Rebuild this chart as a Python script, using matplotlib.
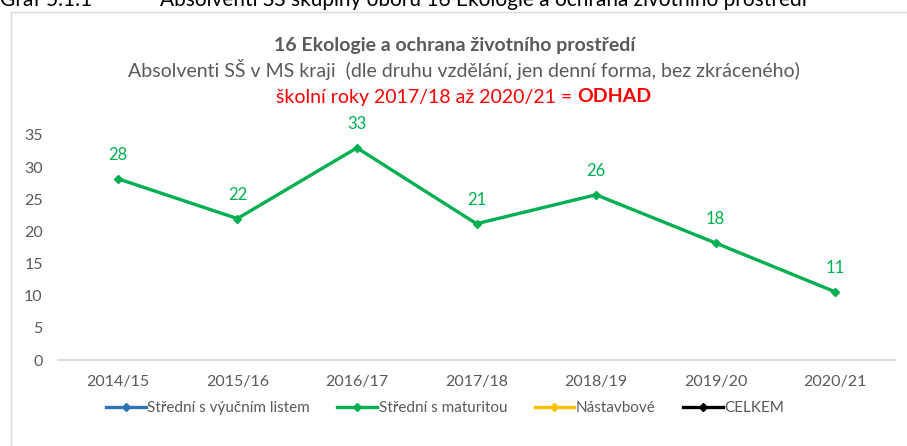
import numpy as np
import matplotlib.pyplot as plt
from matplotlib.lines import Line2D

plt.rcParams['font.family'] = ['Lato', 'DejaVu Sans']

years = ['2014/15', '2015/16', '2016/17', '2017/18', '2018/19', '2019/20', '2020/21']
maturita = [28.2, 22.0, 33.0, 21.2, 25.7, 18.2, 10.6]
vyucni = [np.nan] * 7
nastavbove = [np.nan] * 7
celkem = [np.nan] * 7

series_names = ['Střední s výučním listem', 'Střední s maturitou', 'Nástavbové', 'CELKEM']
series_colors = ['#2E75B6', '#00B050', '#FFC000', '#000000']

W, H = 907, 446
fig = plt.figure(figsize=(W / 100, H / 100), dpi=100)

def px(x, y):
    return x / W, 1 - y / H

# chart frame (partly cropped)
fig.add_artist(Line2D([10.5 / W, 10.5 / W], [0, 1 - 12 / H], color='#D9D9D9', lw=1))
fig.add_artist(Line2D([10.5 / W, 1], [1 - 12 / H, 1 - 12 / H], color='#D9D9D9', lw=1))

# caption above the frame, top cut off as in the source
fig.text(*px(0, 6), 'Graf 5.1.1', fontsize=15, color='black', va='baseline', ha='left')
fig.text(*px(160, 6), 'Absolventi SŠ skupiny oborů 16 Ekologie a ochrana životního prostředí',
         fontsize=15, color='black', va='baseline', ha='left')

grey = '#595959'
fig.text(*px(455, 45), '16 Ekologie a ochrana životního prostředí', fontsize=14,
         fontweight='bold', color=grey, ha='center', va='center')
fig.text(*px(464, 70), 'Absolventi SŠ v MS kraji  (dle druhu vzdělání, jen denní forma, bez zkráceného)',
         fontsize=14, color=grey, ha='center', va='center')

# red line: regular part + bold part, centred together
red1 = fig.text(0, 1 - 97 / H, 'školní roky 2017/18 až 2020/21 = ', fontsize=14,
                color='#FF0000', ha='left', va='center')
red2 = fig.text(0, 1 - 97 / H, 'ODHAD', fontsize=14, fontweight='bold', color='#FF0000',
                ha='left', va='center')
renderer = fig.canvas.get_renderer()
w1 = red1.get_window_extent(renderer).width
w2 = red2.get_window_extent(renderer).width
x0 = 464 - (w1 + w2) / 2
red1.set_x(x0 / W)
red2.set_x((x0 + w1) / W)

l, r = 58, 895
b, t = 360, 135
ax = fig.add_axes([l / W, 1 - b / H, (r - l) / W, (b - t) / H])
x = np.arange(len(years))

ax.plot(x, vyucni, color=series_colors[0], lw=2.4, marker='D', ms=4, label=series_names[0])
ax.plot(x, maturita, color=series_colors[1], lw=2.4, marker='D', ms=4, label=series_names[1])
ax.plot(x, nastavbove, color=series_colors[2], lw=2.4, marker='D', ms=4, label=series_names[2])
ax.plot(x, celkem, color=series_colors[3], lw=2.4, marker='D', ms=4, label=series_names[3])

for xi, v in zip(x, maturita):
    ax.annotate(f'{v:.0f}', (xi, v), xytext=(0, 17), textcoords='offset points',
                ha='center', va='center', color='#00B050', fontsize=12, annotation_clip=False)

ax.set_xlim(-0.5, len(years) - 0.5)
ax.set_ylim(0, 35)
ax.set_yticks(range(0, 36, 5))
ax.set_xticks(x)
ax.set_xticklabels(years)
for s in ['top', 'right', 'left']:
    ax.spines[s].set_visible(False)
ax.spines['bottom'].set_color('#D9D9D9')
ax.spines['bottom'].set_linewidth(1.3)
ax.tick_params(length=0, colors=grey, labelsize=11.5)
ax.tick_params(axis='x', pad=11)
ax.tick_params(axis='y', pad=11)

handles, labels = ax.get_legend_handles_labels()
fig.legend(handles, labels, loc='center', bbox_to_anchor=px(445, 408), ncol=4,
           frameon=False, fontsize=11, labelcolor=grey, handlelength=2.6,
           handletextpad=0.1, columnspacing=1.8)

fig.savefig('out.png', dpi=100)
